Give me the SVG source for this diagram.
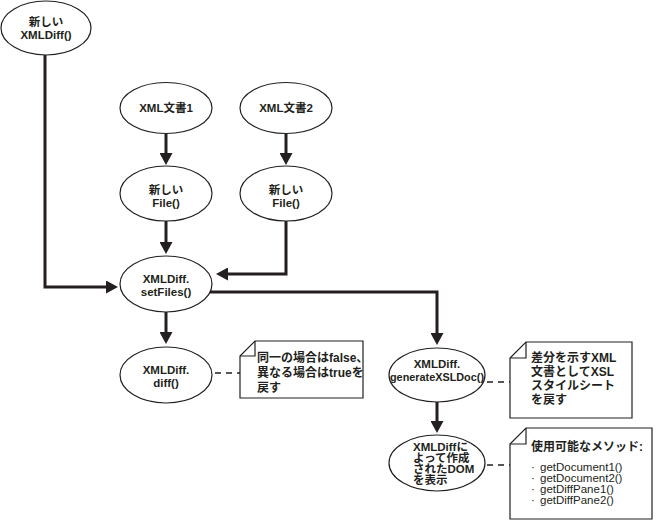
<svg xmlns="http://www.w3.org/2000/svg" width="668" height="521" viewBox="0 0 668 521">
<style>
  .node ellipse { fill: #fff; stroke: #231f20; stroke-width: 1.2; }
  .lbl { font-family: "Liberation Sans", "Noto Sans CJK JP", sans-serif; font-size: 11.5px; font-weight: bold; fill: #231f20; text-anchor: middle; }
  .lbl.left { text-anchor: start; }
  .note path { fill: #fff; stroke: #231f20; stroke-width: 1.2; stroke-linejoin: miter; }
  .note .fold { fill: none; }
  .ntext { font-family: "Liberation Sans", "Noto Sans CJK JP", sans-serif; font-size: 12px; font-weight: bold; fill: #231f20; }
  .mtext { font-family: "Liberation Sans", "Noto Sans CJK JP", sans-serif; font-size: 11.5px; fill: #231f20; }
  .conn path.arrow { fill: none; stroke: #231f20; stroke-width: 3; marker-end: url(#ah); }
  .conn path.dash { fill: none; stroke: #231f20; stroke-width: 1.3; stroke-dasharray: 6 5; }
</style>
<defs>
  <marker id="ah" markerUnits="userSpaceOnUse" markerWidth="13" markerHeight="13" refX="6" refY="6.5" orient="auto">
    <path d="M0,0 L12,6.5 L0,13 z" fill="#231f20"/>
  </marker>
</defs>
<rect width="668" height="521" fill="#fff"/>

<g id="connectors" class="conn">
  <path class="arrow" d="M45,55 V287 H112"/>
  <path class="arrow" d="M166,134 V159"/>
  <path class="arrow" d="M286,134 V159"/>
  <path class="arrow" d="M166,221 V248"/>
  <path class="arrow" d="M286,221 V274 H222"/>
  <path class="arrow" d="M166,312 V338"/>
  <path class="arrow" d="M210,292 H437 V339"/>
  <path class="arrow" d="M437,402 V427"/>
  <path class="dash" d="M215,373 H240"/>
  <path class="dash" d="M487,382 H510"/>
  <path class="dash" d="M487,465 H510"/>
</g>

<g id="node-new-xmldiff" class="node">
  <ellipse cx="46" cy="28" rx="45" ry="27"/>
  <text class="lbl" x="46" y="26">新しい</text>
  <text class="lbl" x="46" y="38.5">XMLDiff()</text>
</g>
<g id="node-xml1" class="node">
  <ellipse cx="166" cy="108" rx="46" ry="25.5"/>
  <text class="lbl" x="166" y="112">XML文書1</text>
</g>
<g id="node-xml2" class="node">
  <ellipse cx="286" cy="108" rx="46" ry="25.5"/>
  <text class="lbl" x="286" y="112">XML文書2</text>
</g>
<g id="node-file1" class="node">
  <ellipse cx="166" cy="193.5" rx="46" ry="27.5"/>
  <text class="lbl" x="166" y="194">新しい</text>
  <text class="lbl" x="166" y="206.5">File()</text>
</g>
<g id="node-file2" class="node">
  <ellipse cx="286" cy="193.5" rx="46" ry="27.5"/>
  <text class="lbl" x="286" y="194">新しい</text>
  <text class="lbl" x="286" y="206.5">File()</text>
</g>
<g id="node-setfiles" class="node">
  <ellipse cx="166" cy="284" rx="46" ry="28"/>
  <text class="lbl" x="166" y="283">XMLDiff.</text>
  <text class="lbl" x="166" y="295.5">setFiles()</text>
</g>
<g id="node-diff" class="node">
  <ellipse cx="166" cy="375" rx="46" ry="28"/>
  <text class="lbl" x="166" y="374">XMLDiff.</text>
  <text class="lbl" x="166" y="386.5">diff()</text>
</g>
<g id="node-genxsl" class="node">
  <ellipse cx="437" cy="375" rx="48" ry="27"/>
  <text class="lbl" x="437" y="368">XMLDiff.</text>
  <text class="lbl" x="437" y="380.5" font-size="11" textLength="94" lengthAdjust="spacingAndGlyphs">generateXSLDoc()</text>
</g>
<g id="node-dom" class="node">
  <ellipse cx="437" cy="463" rx="48" ry="28"/>
  <text class="lbl left" x="413" y="451">XMLDiffに</text>
  <text class="lbl left" x="413" y="462">よって作成</text>
  <text class="lbl left" x="413" y="473">されたDOM</text>
  <text class="lbl left" x="413" y="484">を表示</text>
</g>

<g id="note-diff" class="note">
  <path d="M255,341 H363 V398 H240 V356 Z"/>
  <path class="fold" d="M240,356 H255 V341"/>
  <text class="ntext" x="257" y="362">同一の場合はfalse、</text>
  <text class="ntext" x="257" y="377">異なる場合はtrueを</text>
  <text class="ntext" x="257" y="392">戻す</text>
</g>
<g id="note-genxsl" class="note">
  <path d="M526,342 H632 V418 H510 V358 Z"/>
  <path class="fold" d="M510,358 H526 V342"/>
  <text class="ntext" x="531" y="362">差分を示すXML</text>
  <text class="ntext" x="531" y="376">文書としてXSL</text>
  <text class="ntext" x="531" y="390">スタイルシート</text>
  <text class="ntext" x="531" y="404">を戻す</text>
</g>
<g id="note-dom" class="note">
  <path d="M526,428 H652 V519 H510 V444 Z"/>
  <path class="fold" d="M510,444 H526 V428"/>
  <text class="ntext" x="531" y="451">使用可能なメソッド:</text>
  <text class="mtext" x="531" y="471">·<tspan x="540">getDocument1()</tspan></text>
  <text class="mtext" x="531" y="482">·<tspan x="540">getDocument2()</tspan></text>
  <text class="mtext" x="531" y="493">·<tspan x="540">getDiffPane1()</tspan></text>
  <text class="mtext" x="531" y="504">·<tspan x="540">getDiffPane2()</tspan></text>
</g>
</svg>
